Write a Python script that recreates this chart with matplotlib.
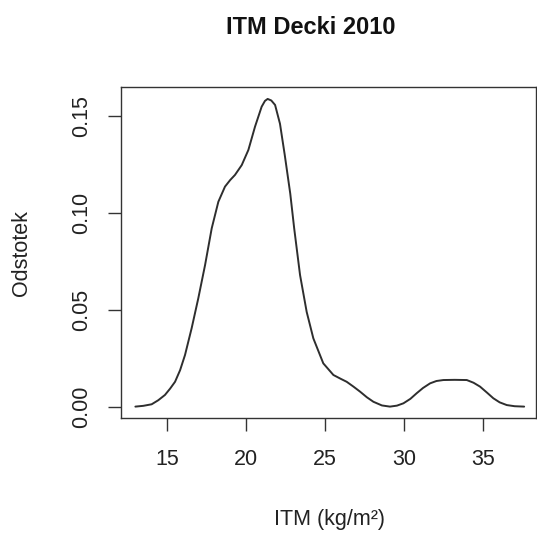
import matplotlib
matplotlib.use("Agg")
import matplotlib.pyplot as plt

# density estimate of BMI (ITM), read off as (x, y) pairs
itm = [13.0, 13.5, 14.03, 14.45, 14.87, 15.2, 15.51, 15.83, 16.14, 16.56,
       16.98, 17.41, 17.83, 18.25, 18.67, 19.0, 19.3, 19.73, 20.15, 20.57,
       20.99, 21.2, 21.37, 21.6, 21.84, 22.15, 22.45, 22.8, 23.05, 23.42,
       23.84, 24.26, 24.89, 25.53, 26.0, 26.37, 26.8, 27.22, 27.65, 28.06,
       28.6, 29.11, 29.55, 29.96, 30.4, 30.8, 31.2, 31.65, 32.05, 32.49,
       33.2, 33.97, 34.4, 34.81, 35.25, 35.65, 36.05, 36.5, 37.0, 37.6]
gostota = [0.0002, 0.0006, 0.0014, 0.0035, 0.0062, 0.0095, 0.013, 0.019, 0.0268, 0.0406,
           0.056, 0.0732, 0.0921, 0.1058, 0.1136, 0.117, 0.1196, 0.1247, 0.1325, 0.1445,
           0.1548, 0.1578, 0.1588, 0.158, 0.1557, 0.146, 0.13, 0.11, 0.092, 0.068,
           0.049, 0.0354, 0.0225, 0.0165, 0.0145, 0.013, 0.0105, 0.0079, 0.005, 0.0027,
           0.0008, 0.0002, 0.0007, 0.0019, 0.0042, 0.0071, 0.0098, 0.0122, 0.0134, 0.0139,
           0.014, 0.0139, 0.0125, 0.0105, 0.0074, 0.0045, 0.0024, 0.001, 0.0004, 0.0002]

x_ticks = [15, 20, 25, 30, 35]
y_ticks = [0.00, 0.05, 0.10, 0.15]

plt.rcParams['font.family'] = ['Liberation Sans', 'DejaVu Sans']

W, H = 537, 534
fig = plt.figure(figsize=(W / 100, H / 100), dpi=100)
ax = fig.add_axes([121 / W, (H - 418) / H, (536 - 121) / W, (418 - 87) / H])

ax.plot(itm, gostota, color='#2e2e2e', lw=1.4, solid_joinstyle='round',
        solid_capstyle='round')

ax.set_xlim(12.09, 38.35)
ax.set_ylim(-0.00567, 0.16495)
ax.set_xticks(x_ticks)
ax.set_xticklabels([str(t) for t in x_ticks])
ax.set_yticks(y_ticks)
ax.set_yticklabels([f"{t:.2f}" for t in y_ticks], rotation=90, va='center')

ax.tick_params(axis='both', direction='out', length=9.5, width=1.0,
               color='#333333', labelsize=15.5, labelcolor='#222222')
ax.tick_params(axis='x', pad=13)
ax.tick_params(axis='y', pad=11)
for s in ax.spines.values():
    s.set_color('#333333')
    s.set_linewidth(1.0)

fig.text(311 / W, 1 - 28 / H, 'ITM Decki 2010', ha='center', va='center',
         fontsize=17, fontweight='bold', color='#111111')
fig.text(329 / W, 1 - 519 / H, 'ITM (kg/m²)', ha='center', va='center',
         fontsize=15.5, color='#222222')
fig.text(22 / W, 1 - 253 / H, 'Odstotek', ha='center', va='center',
         rotation=90, fontsize=15.5, color='#222222')

fig.savefig('out.png', dpi=100)
